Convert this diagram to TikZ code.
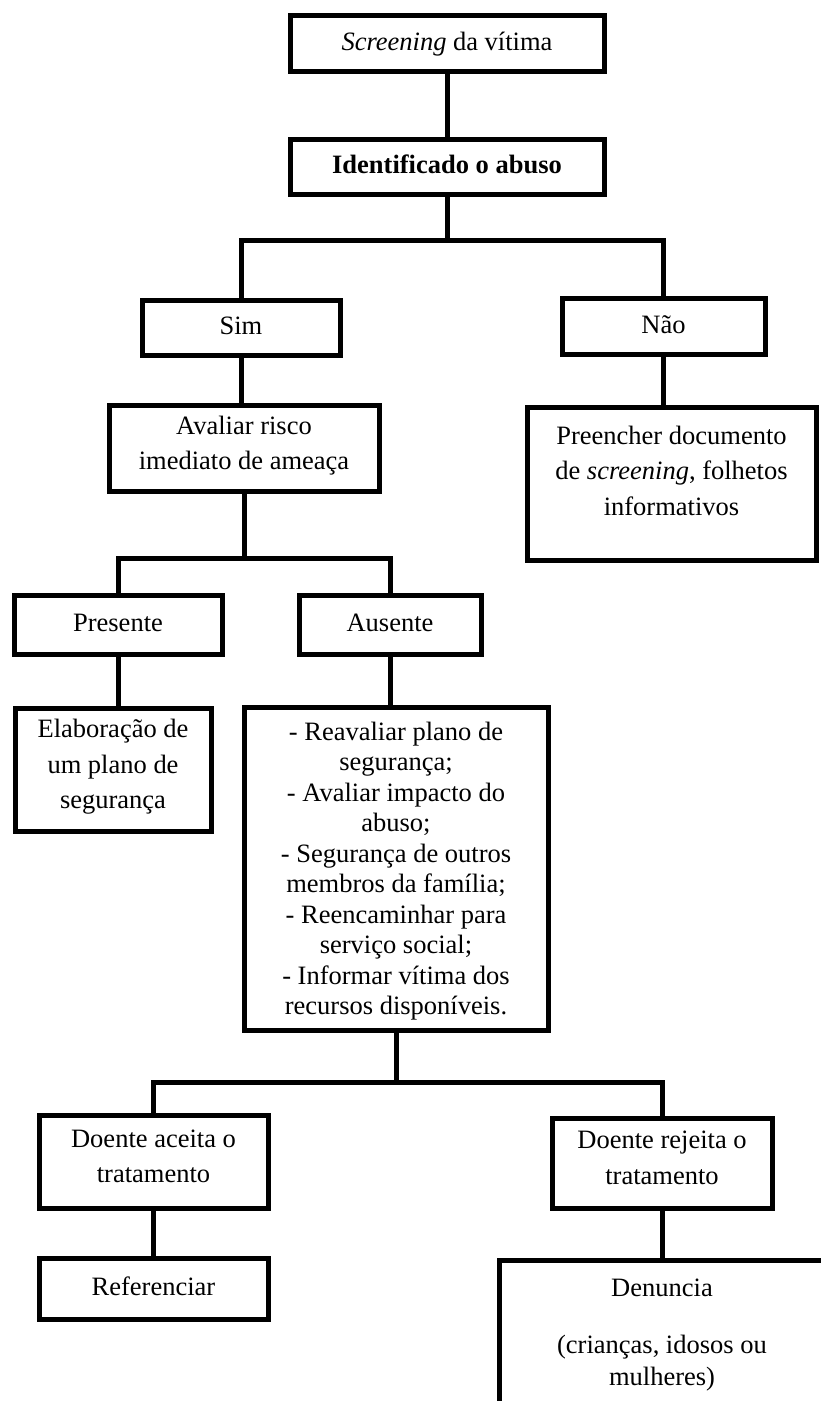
\documentclass[tikz,border=0pt]{standalone}
\usepackage{fontspec}
\setmainfont{Liberation Serif}

\begin{document}
\begin{tikzpicture}[x=1pt,y=-1pt,
  font=\fontsize{26.5}{35.5}\selectfont,
  stage/.style 2 args={draw,line width=5pt,inner sep=0pt,align=center,
    minimum width=#1,minimum height=#2,
    execute at begin node=\strut,execute at end node=\strut},
  link/.style={line width=5pt}]
  \useasboundingbox (0,0) rectangle (821,1401);
  \clip (0,0) rectangle (821,1401);

  \node[stage={314pt}{56pt}] (scr) at (447,43) {\textit{Screening} da vítima};
  \node[stage={314pt}{55pt},font=\fontsize{26.5}{35.5}\selectfont\bfseries] (ident) at (447,166.5) {Identificado o abuso};
  \coordinate (bar1) at (447,240);

  \node[stage={198pt}{55pt}] (sim) at (241,327.5) {Sim};
  \node[stage={203pt}{56pt}] (nao) at (663.5,326) {Não};
  \node[stage={270pt}{86pt}] (aval) at (244,448) {Avaliar risco\\imediato de ameaça};
  \node[stage={289pt}{153pt}] (pree) at (671.5,483.5)
    {Preencher documento\\de \textit{screening}, folhetos\\informativos\\[-20pt]\mbox{}};
  \coordinate (bar2) at (244,558);

  \node[stage={208pt}{59pt}] (pres) at (118,624.5) {Presente};
  \node[stage={182pt}{59pt}] (aus) at (390,624.5) {Ausente};
  \node[stage={196pt}{123pt}] (elab) at (113,769.5) {Elaboração de\\um plano de\\segurança};
  \node[stage={304pt}{323pt},font=\fontsize{26.5}{30.5}\selectfont,text depth=0pt] (list) at (396,868.5)
    {- Reavaliar plano de\\segurança;\\- Avaliar impacto do\\abuso;\\- Segurança de outros\\membros da família;\\- Reencaminhar para\\serviço social;\\- Informar vítima dos\\recursos disponíveis.};
  \coordinate (bar3) at (398,1082);

  \node[stage={229pt}{93pt}] (acc) at (153.5,1161.5) {Doente aceita o\\tratamento};
  \node[stage={220pt}{90pt}] (rej) at (662,1163) {Doente rejeita o\\tratamento};
  \node[stage={229pt}{61pt}] (ref) at (153.5,1288.5) {Referenciar};
  \node[stage={326pt}{144pt},text depth=0pt] (den) at (662,1332)
    {Denuncia\\[21.5pt](crianças, idosos ou\\[-3.5pt]mulheres)};

  \draw[link] (scr.south) -- (scr.south |- ident.north);
  \draw[link] (ident.south) -- (ident.south |- bar1);
  \draw[link] (sim.north) |- (bar1) -| (nao.north);
  \draw[link] (sim.south) -- (sim.south |- aval.north);
  \draw[link] (nao.south) -- (nao.south |- pree.north);
  \draw[link] (aval.south) -- (aval.south |- bar2);
  \draw[link] (pres.north) |- (bar2) -| (aus.north);
  \draw[link] (pres.south) -- (pres.south |- elab.north);
  \draw[link] (aus.south) -- (aus.south |- list.north);
  \draw[link] (list.south) -- (list.south |- bar3);
  \draw[link] (acc.north) |- (bar3) -| (rej.north);
  \draw[link] (acc.south) -- (acc.south |- ref.north);
  \draw[link] (rej.south) -- (rej.south |- den.north);
\end{tikzpicture}
\end{document}
